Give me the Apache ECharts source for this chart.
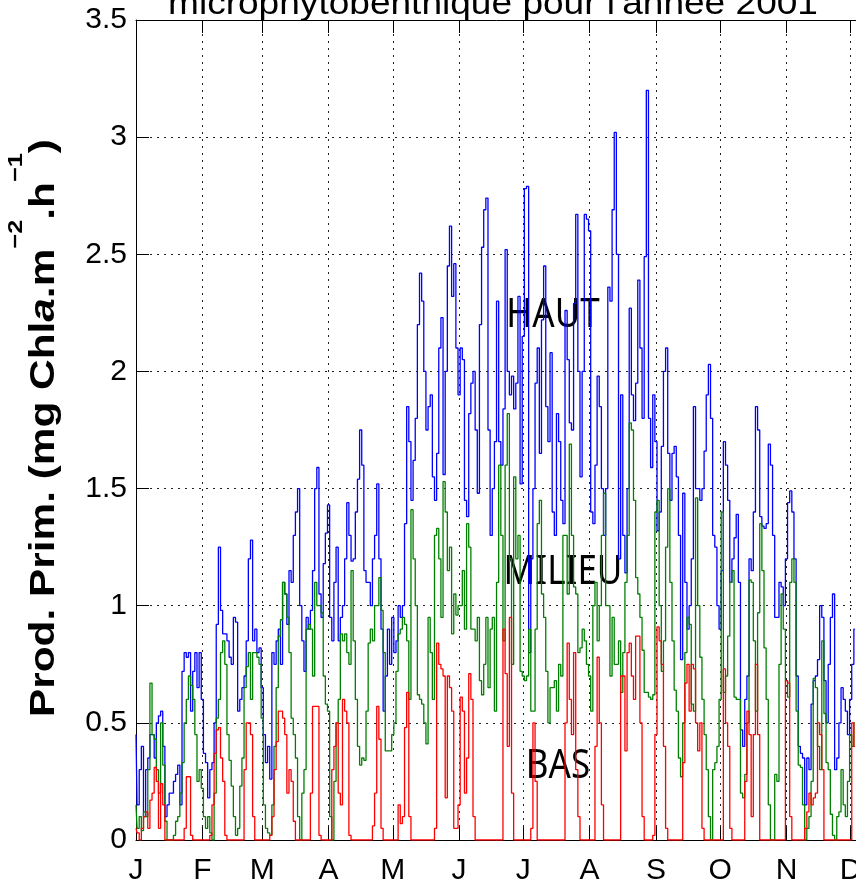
<!DOCTYPE html>
<html>
<head>
<meta charset="utf-8">
<script src="https://cdn.jsdelivr.net/npm/echarts@6/dist/echarts.min.js"></script>
<style>
html,body{margin:0;padding:0;background:#fff;}
#c{width:856px;height:888px;}
</style>
</head>
<body>
<div id="c"></div>
<script>
// Month starts (day of year, Jan 1 = 0) and their tick labels
const monthStarts = [0, 31, 59, 90, 120, 151, 181, 212, 243, 273, 304, 334];
const monthLabels = ['J', 'F', 'M', 'A', 'M', 'J', 'J', 'A', 'S', 'O', 'N', 'D'];

// Daily primary production, HAUT level (blue), from day 0
const haut = [
0.45,0.15,0.3,0.4,0.1,0.3,0.35,0.45,0.45,0.35,
0.5,0.53,0.55,0.4,0.1,0.15,0.2,0.2,0.25,0.28,
0.32,0.15,0.72,0.8,0.78,0.8,0.55,0.72,0.8,0.65,
0.8,0.6,0.37,0.33,0.18,0.3,0.33,0.5,0.92,1.25,
0.98,0.88,0.88,0.85,0.78,0.75,0.95,0.93,0.55,0.6,
0.65,0.7,0.85,1.2,1.28,0.85,0.9,0.8,0.82,0.65,
0.45,0.33,0.4,0.26,0.8,0.75,0.85,0.9,0.75,1.1,
1.05,0.92,1.15,1.1,1.3,1.4,1.5,1.0,0.85,0.72,
0.95,0.9,0.98,1.15,1.5,1.59,1.05,0.95,1.18,1.31,
1.43,0.95,0.85,1.1,1.25,0.85,0.95,1.0,1.2,1.44,
1.3,1.19,1.2,1.4,1.54,1.75,1.6,1.15,1.1,1.1,
1.0,1.2,1.3,1.52,1.2,0.9,0.55,0.7,0.9,0.75,
0.95,0.8,0.85,1.0,0.95,1.0,1.35,1.85,1.7,1.45,
1.62,1.8,2.2,2.42,2.3,2.0,1.75,1.85,1.9,1.55,
1.45,1.65,2.1,2.23,1.56,2.0,2.45,2.62,2.32,2.46,
2.1,1.9,2.1,2.05,1.45,1.38,1.82,1.95,2.0,1.75,
1.48,2.2,2.53,2.69,2.74,1.75,1.3,1.5,1.7,2.3,
1.7,1.6,1.84,2.52,2.0,1.9,1.98,1.84,1.95,2.32,
1.52,2.15,2.78,2.79,0.8,1.2,1.5,1.95,2.1,1.65,
2.22,2.45,1.85,1.7,2.08,1.4,1.3,1.82,1.7,1.45,
1.35,2.26,2.05,1.78,1.75,2.29,2.67,2.0,1.55,2.0,
2.67,2.65,2.6,1.4,1.35,1.6,1.98,1.85,1.5,1.3,
1.5,2.36,2.3,2.69,3.02,2.5,1.2,1.9,1.3,1.14,
1.5,2.27,1.9,1.79,1.95,2.39,2.1,1.8,2.49,3.2,
1.8,1.59,1.9,1.7,1.32,1.4,1.68,2.0,2.1,1.65,
1.45,1.65,1.68,1.55,1.3,0.77,1.48,1.1,0.9,1.0,
1.2,1.85,1.5,1.5,1.45,1.5,1.66,1.9,2.03,1.8,
1.3,1.25,1.0,0.9,1.15,1.7,1.6,1.45,1.1,1.2,
1.29,1.39,1.1,0.47,0.4,0.6,0.7,1.2,1.15,1.4,
1.85,1.75,1.38,1.34,1.33,1.35,1.69,1.6,1.3,0.95,
0.95,1.1,1.08,1.0,1.2,1.44,1.49,1.4,1.2,0.7,
0.4,0.37,0.35,0.15,0.35,0.3,0.58,0.68,0.7,0.77,
1.0,0.95,0.68,0.5,0.75,0.95,1.05,0.3,0.35,0.5,
0.65,0.6,0.55,0.45,0.6,0.75,0.9
];

// MILIEU level (green)
const milieu = [
0.15,0.05,0.1,0.04,0.12,0.1,0.3,0.67,0.45,0.43,
0.3,0.2,0.5,0.32,0.08,0,0,0,0.02,0.08,
0.1,0.2,0.33,0.5,0.6,0.7,0.66,0.6,0.45,0.25,
0.3,0.22,0.1,0.05,0.1,0.03,0,0.2,0.52,0.6,
0.8,0.85,0.75,0.45,0.34,0.23,0.1,0.02,0.05,0.23,
0.35,0.65,0.74,0.8,0.6,0.8,0.8,0.78,0.75,0.52,
0.15,0.05,0.03,0.02,0.15,0.4,0.65,0.87,0.94,1.1,
1.05,0.95,0.8,0.52,0.45,0.35,0.1,0,0.2,0.3,
0.9,0.92,0.9,0.7,1.1,1.0,1.0,0.97,0.7,0.58,
0.55,0.1,0,0.25,0.5,0.6,0.88,0.85,0.88,0.8,
0.75,1.15,0.85,0.6,0.4,0.32,0.35,0.34,0.55,0.84,
0.9,0.85,1.0,1.0,1.12,0.98,0.8,0.38,0.38,0.38,
0.45,0.5,0.72,0.88,0.9,0.95,0.92,0.85,0.6,1.41,
1.2,1.0,0.62,0.6,0.58,0.5,0.41,0.95,0.8,0.6,
1.3,1.33,1.2,0.95,1.53,1.4,1.15,1.25,0.88,1.05,
0.96,1.0,1.0,1.15,0.9,1.35,1.25,0.9,0.9,0.85,
0.95,0.68,0.62,0.75,0.95,0.65,0.9,0.95,0.55,1.1,
1.6,1.3,0.85,1.6,1.82,1.2,0.75,1.55,1.2,1.3,
0.72,0.7,0.68,0.7,0.9,0.55,0.55,0.9,1.35,1.45,
1.05,0.95,0.72,0.5,0.65,0.65,0.68,0.55,0.75,0.7,
1.3,1.3,1.05,1.69,1.3,1.08,1.05,0.8,0.82,0.9,
0.85,0.75,0.7,0.55,1.0,1.1,0.85,1.0,1.3,1.48,
1.0,1.0,0.7,0.95,0.75,0.75,0.85,0.63,0.8,1.1,
1.3,1.78,1.75,1.45,1.12,1.05,0.95,0.81,0.63,0.63,
0.61,0.6,0.62,1.4,1.45,1.0,0.72,0.85,1.25,1.5,
1.1,0.85,0.64,0.55,0.35,0.27,0.5,0.8,0.95,0.92,
0.58,0.55,1.46,1.0,0.78,0.6,0.45,0.3,0.1,0,
0.3,0.33,0.4,0.6,1.4,0.63,0.7,0.87,1.1,1.15,
0.61,0.6,0.6,0.2,0.18,0.28,0.5,1.11,1.1,0.85,
0.55,0.97,1.35,1.15,0.82,0.6,0.15,0,0,0.28,
0.25,0.75,1.05,0.9,0.68,0.61,1.1,1.2,1.1,0.55,
0.32,0.31,0.15,0,0.05,0.1,0.25,0.69,0.65,0.4,
0.3,0.85,0.54,0.33,0.3,0.11,0.02,0,0.1,0.12,
0.3,0.15,0.1,0.25,0.45,0.4,0.5
];

// BAS level (red)
const bas = [
0.05,0.03,0,0.05,0.1,0.12,0.05,0.17,0.2,0.31,
0.25,0.05,0.24,0.15,0,0,0,0,0,0,
0,0,0,0.05,0.27,0.27,0.02,0,0,0,
0,0,0,0,0,0.02,0.15,0.37,0.47,0.48,
0.35,0.25,0.02,0,0,0,0,0,0,0,
0,0.3,0.5,0.5,0.45,0.1,0,0,0,0,
0,0,0,0.02,0.1,0.3,0.42,0.55,0.55,0.52,
0.45,0.2,0.3,0.25,0.08,0,0,0,0,0,
0,0,0.2,0.57,0.57,0.57,0.02,0,0,0,
0,0,0.3,0.4,0.5,0.2,0.15,0.6,0.55,0.5,
0.02,0,0,0,0,0,0,0,0,0,
0,0.06,0.2,0.57,0.43,0.05,0,0,0,0,
0,0,0,0.15,0.07,0.1,0.48,0.63,0.1,0,
0,0,0,0,0,0,0,0,0,0,
0.05,0.84,0.75,0.73,0.7,0.18,0.7,0.65,0.55,0.05,
0.05,0.15,0.61,0.55,0.2,0.35,0.71,0.6,0.1,0,
0,0,0,0,0,0,0,0,0,0,
0,0,0.9,0.71,0.4,0.95,0.2,0,0,0,
0,0,0,0,0,0.05,0.5,0.25,0,0,
0,0,0,0,0,0,0,0,0,0,
0,0.5,0.84,0.6,0.45,0.8,0.3,0.1,0,0,
0,0,0,0,0,0.4,0.78,0.5,0.15,0,
0,0,0,0,0,0,0,0.7,0.7,0.38,
0.8,0.84,0.7,0.6,0.87,0.87,0.5,0.1,0,0,
0,0,0.02,0.45,0.91,0.85,0.75,0.4,0.05,0,
0,0,0,0,0,0,0.33,0.67,0.75,0.55,
0.75,0.73,0.5,0.38,0.5,0.05,0,0,0,0,
0,0,0,0,0,0.73,0.5,0.4,0.05,0,
0,0,0,0,0,0.25,0.55,0.45,0.1,0.45,
0.75,0.45,0,0,0,0,0,0,0,0,
0,0,0,0,0.68,0.67,0.1,0,0,0,
0,0,0,0.05,0.12,0.2,0.15,0.18,0.2,0.5,
0.45,0.3,0,0,0,0,0,0,0,0,
0,0,0,0,0,0.5,0.4
];

const titleText = "microphytobenthique pour l'année 2001";

const chart = echarts.init(document.getElementById('c'), null, {renderer: 'canvas'});
const toPairs = arr => arr.map((v, i) => [i, v]);
const FONT = '"Liberation Sans", Arial, Helvetica, sans-serif';
const dotted = {type: [2, 5], color: '#222', width: 1};

const lineSeries = (name, arr, color) => ({
  name: name, type: 'line', data: toPairs(arr), xAxisIndex: 0, yAxisIndex: 0,
  showSymbol: false, symbol: 'none', step: 'middle', silent: true,
  lineStyle: {color: color, width: 1.3}, itemStyle: {color: color}
});

const option = {
  animation: false,
  backgroundColor: '#ffffff',
  grid: {left: 136, top: 20, width: 781, height: 820, containLabel: false, outerBoundsMode: 'none'},
  xAxis: [{
    type: 'value', min: 0, max: 365, position: 'bottom',
    axisLine: {show: true, onZero: false, lineStyle: {color: '#000', width: 1}},
    axisTick: {show: true, inside: true, length: 13, customValues: monthStarts, lineStyle: {color: '#000'}},
    axisLabel: {
      show: true, customValues: monthStarts,
      formatter: v => monthLabels[monthStarts.indexOf(v)],
      fontSize: 30, fontFamily: FONT, color: '#000', margin: 16, hideOverlap: false
    },
    splitLine: {show: true, lineStyle: dotted}
  }, {
    type: 'value', min: 0, max: 365, position: 'top',
    axisLine: {show: true, onZero: false, lineStyle: {color: '#000', width: 1}},
    axisTick: {show: true, inside: true, length: 13, customValues: monthStarts, lineStyle: {color: '#000'}},
    axisLabel: {show: false},
    splitLine: {show: false}
  }],
  yAxis: {
    type: 'value', min: 0, max: 3.5, interval: 0.5,
    axisLine: {show: true, lineStyle: {color: '#000', width: 1}},
    axisTick: {show: true, inside: true, length: 13, lineStyle: {color: '#000'}},
    axisLabel: {fontSize: 30, fontFamily: FONT, color: '#000', margin: 9},
    splitLine: {show: true, lineStyle: dotted}
  },
  series: [
    lineSeries('HAUT', haut, '#0000ff'),
    lineSeries('MILIEU', milieu, '#008000'),
    lineSeries('BAS', bas, '#ff0000')
  ],
  graphic: [
    {
      type: 'text', x: 493, y: 5, scaleX: 1.09, silent: true,
      style: {text: titleText, fontSize: 34, fontFamily: FONT, fill: '#000', align: 'center', verticalAlign: 'middle'}
    },
    {
      type: 'text', x: 34, y: 428, rotation: Math.PI / 2, scaleX: 1.21, silent: true,
      style: {
        text: '{b|Prod. Prim. (mg Chl}{i|a}{b|.m}{s|\u22122}{b|.h}{s|\u22121}{b|)}',
        align: 'center', verticalAlign: 'middle', fill: '#000',
        rich: {
          b: {fontFamily: FONT, fontWeight: 'bold', fontSize: 35, lineHeight: 56, verticalAlign: 'bottom', fill: '#000'},
          i: {fontFamily: FONT, fontWeight: 'bold', fontStyle: 'italic', fontSize: 35, lineHeight: 56, verticalAlign: 'bottom', fill: '#000'},
          s: {fontFamily: FONT, fontWeight: 'bold', fontSize: 21, verticalAlign: 'top', fill: '#000'}
        }
      }
    },
    {
      type: 'text', x: 553, y: 316, scaleY: 1.12, silent: true,
      style: {text: 'HAUT', fontSize: 35, fontFamily: '"Noto Sans", "Open Sans", sans-serif', fill: '#000', align: 'center', verticalAlign: 'middle'}
    },
    {
      type: 'text', x: 563, y: 573, scaleY: 1.12, silent: true,
      style: {text: 'MILIEU', fontSize: 35, fontFamily: '"Noto Sans", "Open Sans", sans-serif', fill: '#000', align: 'center', verticalAlign: 'middle'}
    },
    {
      type: 'text', x: 558, y: 767, scaleY: 1.12, silent: true,
      style: {text: 'BAS', fontSize: 35, fontFamily: '"Noto Sans", "Open Sans", sans-serif', fill: '#000', align: 'center', verticalAlign: 'middle'}
    }
  ]
};
chart.setOption(option);
</script>
</body>
</html>
